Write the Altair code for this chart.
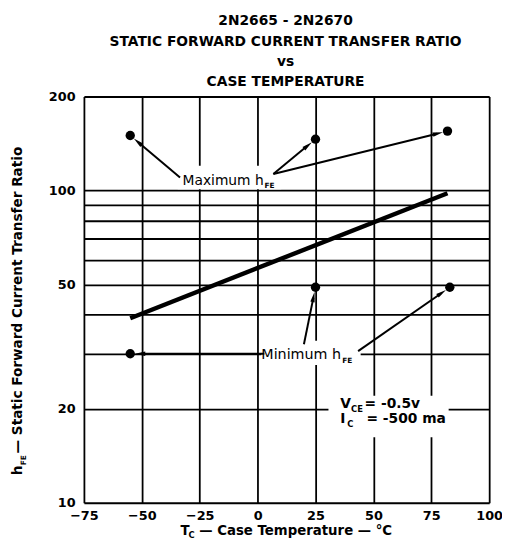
import math
import altair as alt
import pandas as pd

# ---------------- data ----------------
line_temp = [-55, 82]
line_hfe = [39, 98]

max_temp = [-55, 25, 82]
max_hfe = [150, 146, 155]
min_temp = [-55, 25, 83]
min_hfe = [30, 49, 49]

# arrow start points (label side) in data coordinates
max_from_temp = [-33.5, 6.8, 6.8]
max_from_hfe = [110, 113, 113]
min_from_temp = [2.9, 20.0, 43.4]
min_from_hfe = [30.0, 32.2, 30.6]

x_ticks = [-75, -50, -25, 0, 25, 50, 75, 100]
y_grid = [10, 20, 30, 40, 50, 60, 70, 80, 90, 100, 200]
y_labels = [10, 20, 50, 100, 200]

title_lines = ["2N2665 - 2N2670", "STATIC FORWARD CURRENT TRANSFER RATIO", "vs", "CASE TEMPERATURE"]

W, H = 411, 412
XMIN, XMAX = -75, 100
YMIN, YMAX = 10, 200
FONT = "DejaVu Sans"

# ---------------- helpers ----------------
def px(x):
    return (x - XMIN) / (XMAX - XMIN) * W

def py(y):
    return H * (1 - (math.log10(y) - math.log10(YMIN)) / (math.log10(YMAX) - math.log10(YMIN)))

def ix(p):
    return XMIN + p / W * (XMAX - XMIN)

def iy(p):
    return 10 ** (math.log10(YMIN) + (1 - p / H) * (math.log10(YMAX) - math.log10(YMIN)))

xs = alt.Scale(domain=[XMIN, XMAX], nice=False, zero=False)
ys = alt.Scale(type="log", domain=[YMIN, YMAX], nice=False)

rules, heads = [], []
for fx, fy, tx, ty in list(zip(max_from_temp, max_from_hfe, max_temp, max_hfe)) + \
        list(zip(min_from_temp, min_from_hfe, min_temp, min_hfe)):
    sx, sy = px(fx), py(fy)
    ex, ey = px(tx), py(ty)
    L = math.hypot(ex - sx, ey - sy)
    ux, uy = (ex - sx) / L, (ey - sy) / L
    tipx, tipy = ex - 5 * ux, ey - 5 * uy
    hx, hy = tipx - 5 * ux, tipy - 5 * uy
    lx, ly = tipx - 6 * ux, tipy - 6 * uy
    ang = math.degrees(math.atan2(ux, -uy)) % 360
    rules.append({"x": fx, "y": fy, "x2": ix(lx), "y2": iy(ly)})
    heads.append({"x": ix(hx), "y": iy(hy), "a": ang})

rules_df = pd.DataFrame(rules)
heads_df = pd.DataFrame(heads)

label_expr = "indexof([" + ",".join(str(v) for v in y_labels) + "], datum.value) >= 0 ? format(datum.value, 'd') : ''"

base_x = alt.X("x:Q", scale=xs, axis=alt.Axis(
    values=x_ticks, grid=True, gridColor="black", gridWidth=1.8, gridOpacity=1,
    ticks=False, domain=False, labelFlush=False, labelFont=FONT, labelFontSize=13,
    labelFontWeight="bold", labelColor="black", labelPadding=7, title=None))
base_y = alt.Y("y:Q", scale=ys, axis=alt.Axis(
    values=y_grid, grid=True, gridColor="black", gridWidth=1.8, gridOpacity=1,
    ticks=False, domain=False, labelFont=FONT, labelFontSize=13, labelFontWeight="bold",
    labelColor="black", labelPadding=9, title=None, labelExpr=label_expr))

# trend line
line_df = pd.DataFrame({"x": line_temp, "y": line_hfe})
trend = alt.Chart(line_df).mark_line(color="black", strokeWidth=4.5, strokeCap="butt").encode(
    x=base_x, y=base_y)

# white boxes behind labels (break the grid)
box_df = pd.DataFrame({
    "x": [-34.5, 1.6, 30.6], "x2": [10.2, 44.5, 82.5],
    "y": [101, 27.6, 16.2], "y2": [120, 33.0, 22.0]})
boxes = alt.Chart(box_df).mark_rect(color="white").encode(
    x=alt.X("x:Q", scale=xs), x2="x2:Q", y=alt.Y("y:Q", scale=ys), y2="y2:Q")

pts_df = pd.DataFrame({"x": max_temp + min_temp, "y": max_hfe + min_hfe})
pts = alt.Chart(pts_df).mark_circle(color="black", size=90, opacity=1).encode(
    x=alt.X("x:Q", scale=xs), y=alt.Y("y:Q", scale=ys))

arrows = alt.Chart(rules_df).mark_rule(color="black", strokeWidth=2).encode(
    x=alt.X("x:Q", scale=xs), y=alt.Y("y:Q", scale=ys), x2="x2:Q", y2="y2:Q")
arrowheads = alt.Chart(heads_df).mark_point(
    shape="M0,-1L0.42,1L-0.42,1Z", filled=True, color="black", size=110, opacity=1).encode(
    x=alt.X("x:Q", scale=xs), y=alt.Y("y:Q", scale=ys), angle=alt.Angle("a:Q", scale=None))

one = pd.DataFrame({"k": [0]})

def dtext(t, x, y, size=14, weight="normal", dx=0, dy=0, align="left", baseline="alphabetic"):
    d = pd.DataFrame({"x": [x], "y": [y], "t": [t]})
    return alt.Chart(d).mark_text(font=FONT, fontSize=size, fontWeight=weight, color="black",
                                  align=align, baseline=baseline, dx=dx, dy=dy).encode(
        x=alt.X("x:Q", scale=xs), y=alt.Y("y:Q", scale=ys), text="t:N")

def ptext(t, x, y, size=14, weight="normal", dx=0, dy=0, align="left", angle=0, baseline="alphabetic"):
    return alt.Chart(one).mark_text(font=FONT, fontSize=size, fontWeight=weight, color="black",
                                    align=align, baseline=baseline, dx=dx, dy=dy, angle=angle).encode(
        x=alt.value(x), y=alt.value(y), text=alt.value(t))

labels = [
    dtext("Maximum h", -32.4, 104.5, size=14),
    dtext("FE", -32.4, 104.5, size=7.5, weight="bold", dx=83, dy=4),
    dtext("Minimum h", 1.6, 28.9, size=14.5),
    dtext("FE", 1.6, 28.9, size=7.5, weight="bold", dx=82, dy=4),
    dtext("V", 35.7, 20.1, size=14, weight="bold"),
    dtext("CE", 35.7, 20.1, size=8.5, weight="bold", dx=11, dy=4),
    dtext("= -0.5v", 46.2, 20.1, size=14, weight="bold"),
    dtext("I", 35.7, 18.0, size=14, weight="bold"),
    dtext("C", 35.7, 18.0, size=8.5, weight="bold", dx=7, dy=4),
    dtext("= -500 ma", 47.0, 18.0, size=14, weight="bold"),
]

# titles (pixel positions relative to plot area)
titles = []
baselines = [-73, -51, -31, -11]
for t, b in zip(title_lines, baselines):
    titles.append(ptext(t, W / 2 - 1, b, size=14, weight="bold", align="center"))

# x axis title
titles += [
    ptext("T", 98, 445, size=13.5, weight="bold"),
    ptext("C", 106, 448, size=8.5, weight="bold"),
    ptext("— Case Temperature — °C", 117, 445, size=13.5, weight="bold"),
]
# y axis title (rotated)
titles += [
    ptext("h", -63, 384, size=14, weight="bold", angle=270),
    ptext("FE", -63, 374, size=7.5, weight="bold", angle=270, dy=4),
    ptext("— Static Forward Current Transfer Ratio", -63, 362, size=13.8, weight="bold",
          angle=270, align="left"),
]

chart = alt.layer(trend, boxes, arrows, arrowheads, pts, *labels, *titles).properties(
    width=W, height=H,
    autosize=alt.AutoSizeParams(type="none"),
    padding={"left": 77, "top": 86, "right": 13, "bottom": 34},
).configure_view(stroke="black", strokeWidth=2.2).configure(background="white")

chart.save("out.html", embed_options={"renderer": "svg", "actions": False})
